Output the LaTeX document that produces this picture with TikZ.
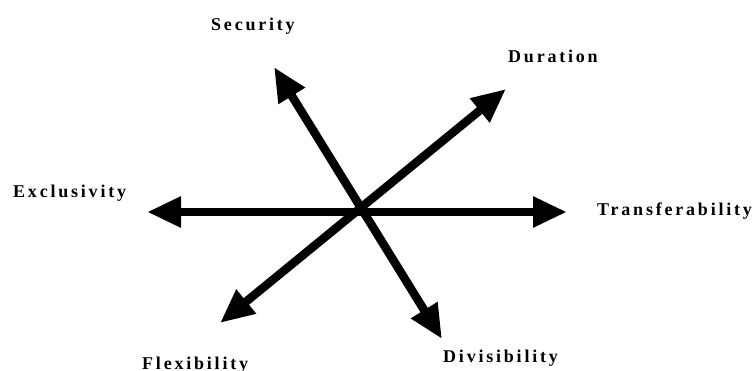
\documentclass[tikz,border=0pt]{standalone}
\usepackage{fontspec}
\setmainfont{Liberation Serif}
\usetikzlibrary{arrows.meta}
\newfontfamily\labelfont[LetterSpace=15.5]{Liberation Serif}
\begin{document}
\begin{tikzpicture}[x=1pt,y=-1pt,
  axis/.style={line width=8.5pt,black,
    {Triangle[length=34pt,width=29pt]}-{Triangle[length=34pt,width=29pt]}},
  dimlabel/.style={inner sep=0pt,anchor=base west,
    font=\labelfont\bfseries\fontsize{18}{20}\selectfont}]
  \useasboundingbox (0,0) rectangle (755,370);

  % arrow tips
  \coordinate (exc) at (147,212);
  \coordinate (tra) at (567,212);
  \coordinate (sec) at (274,67);
  \coordinate (div) at (442,339);
  \coordinate (dur) at (506,89);
  \coordinate (fle) at (220,323);

  % the three double-headed axes
  \draw[axis] (exc) -- (tra);
  \draw[axis] (div) -- (sec);
  \draw[axis] (fle) -- (dur);

  % labels
  \node[dimlabel] (lsec) at (211,30) {Security};
  \node[dimlabel] (ldur) at (508,62) {Duration};
  \node[dimlabel] (lexc) at (13,197) {Exclusivity};
  \node[dimlabel] (ltra) at (597,215) {Transferability};
  \node[dimlabel] (lfle) at (142,369) {Flexibility};
  \node[dimlabel] (ldiv) at (443,362) {Divisibility};
\end{tikzpicture}
\end{document}
